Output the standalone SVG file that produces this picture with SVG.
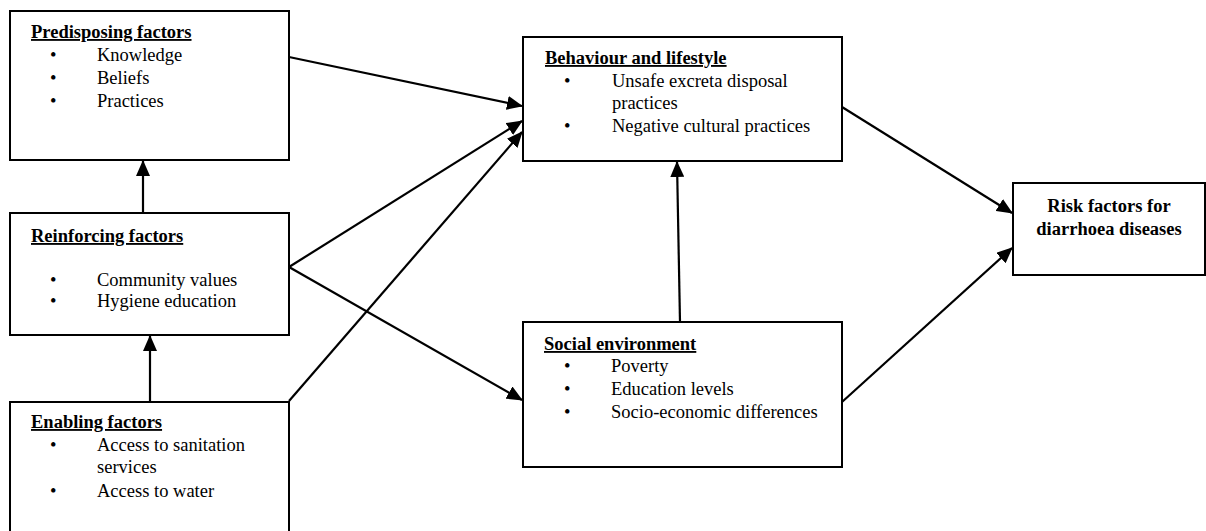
<svg xmlns="http://www.w3.org/2000/svg" width="1206" height="531" viewBox="0 0 1206 531">
<style>
.box{fill:#fff;stroke:#000;stroke-width:2}
text{font-family:"Liberation Serif","Times New Roman",serif;font-size:18.5px;fill:#000}
.h{font-weight:bold;text-decoration:underline}
.b{font-weight:bold}
.c line{stroke:#000;stroke-width:2.2;marker-end:url(#ah)}
</style>
<defs>
<marker id="ah" markerUnits="userSpaceOnUse" markerWidth="16" markerHeight="14" viewBox="0 0 16 14" refX="15" refY="7" orient="auto">
<path d="M0,0 L16,7 L0,14 Z" fill="#000"/>
</marker>
</defs>
<rect width="1206" height="531" fill="#fff"/>
<g id="predisposing">
<rect class="box" x="10" y="11" width="279" height="149"/>
<text class="h" x="31" y="38">Predisposing factors</text>
<text x="50" y="61">•</text><text x="97" y="61">Knowledge</text>
<text x="50" y="84">•</text><text x="97" y="84">Beliefs</text>
<text x="50" y="107">•</text><text x="97" y="107">Practices</text>
</g>
<g id="reinforcing">
<rect class="box" x="10" y="213" width="279" height="122"/>
<text class="h" x="31" y="242">Reinforcing factors</text>
<text x="50" y="286">•</text><text x="97" y="286">Community values</text>
<text x="50" y="307">•</text><text x="97" y="307">Hygiene education</text>
</g>
<g id="enabling">
<rect class="box" x="10" y="402" width="279" height="140"/>
<text class="h" x="31" y="428">Enabling factors</text>
<text x="50" y="451">•</text><text x="97" y="451">Access to sanitation</text>
<text x="97" y="473">services</text>
<text x="50" y="497">•</text><text x="97" y="497">Access to water</text>
</g>
<g id="behaviour">
<rect class="box" x="523" y="37" width="319" height="124"/>
<text class="h" x="545" y="64">Behaviour and lifestyle</text>
<text x="564" y="87">•</text><text x="612" y="87">Unsafe excreta disposal</text>
<text x="612" y="109">practices</text>
<text x="564" y="132">•</text><text x="612" y="132">Negative cultural practices</text>
</g>
<g id="social">
<rect class="box" x="523" y="322" width="319" height="145"/>
<text class="h" x="544" y="350">Social environment</text>
<text x="564" y="372">•</text><text x="611" y="372">Poverty</text>
<text x="564" y="395">•</text><text x="611" y="395">Education levels</text>
<text x="564" y="418">•</text><text x="611" y="418">Socio-economic differences</text>
</g>
<g id="risk">
<rect class="box" x="1013" y="183" width="192" height="92"/>
<text class="b" x="1109" y="212" text-anchor="middle">Risk factors for</text>
<text class="b" x="1109" y="235" text-anchor="middle">diarrhoea diseases</text>
</g>
<g id="connectors" class="c">
<line x1="143" y1="213" x2="143" y2="161"/>
<line x1="150" y1="402" x2="150" y2="336"/>
<line x1="289" y1="57" x2="522" y2="106"/>
<line x1="289" y1="267" x2="522" y2="121"/>
<line x1="289" y1="401" x2="522" y2="132"/>
<line x1="289" y1="267" x2="522" y2="400"/>
<line x1="680" y1="322" x2="677" y2="162"/>
<line x1="842" y1="107" x2="1012" y2="213"/>
<line x1="842" y1="402" x2="1012" y2="248"/>
</g>
</svg>
